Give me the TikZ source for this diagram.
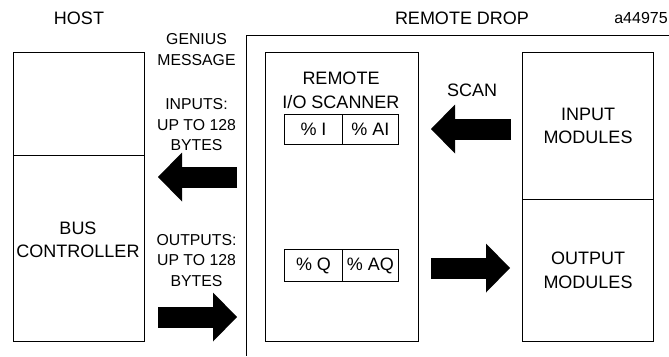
\documentclass[tikz,border=0pt]{standalone}
\usepackage{fontspec}
\setmainfont{Liberation Sans}
\usetikzlibrary{arrows.meta, calc}

\tikzset{
    box/.style={draw, line width=1pt, anchor=north west, inner sep=0pt},
    lbl/.style={align=center, font=\fontsize{18}{23.5}\selectfont},
    msg/.style={align=center, font=\fontsize{15.8}{20.5}\selectfont},
    fat/.style={line width=21pt, -{Triangle[length=24pt, width=49pt, line width=0pt]}},
}

\begin{document}
\begin{tikzpicture}[x=1pt, y=-1pt]
    \useasboundingbox (0,0) rectangle (669,356);

    % headings
    \node[lbl] (host) at (79,18.5) {HOST};
    \node[lbl] (drop) at (462,18.5) {REMOTE DROP};
    \node[font=\fontsize{16}{19}\selectfont] (fig) at (641,18) {a44975};
    \draw[line width=1pt] (669,35) -| (246,356);

    % host side
    \node[box, minimum width=131pt, minimum height=103pt] (hostup) at (13,52) {};
    \node[box, minimum width=131pt, minimum height=186pt] (hostlow) at (13,155) {};
    \node[lbl] (bus) at (78,240) {BUS\\CONTROLLER};

    \node[msg] (genius) at (196.5,49.5) {GENIUS\\MESSAGE};
    \node[msg] (inputs) at (196.5,125) {INPUTS:\\UP TO 128\\BYTES};
    \node[msg] (outputs) at (196.5,260.5) {OUTPUTS:\\UP TO 128\\BYTES};

    % remote drop
    \node[box, minimum width=153pt, minimum height=289pt] (scanner) at (265,52) {};
    \node[lbl] (scantitle) at (341,90.5) {REMOTE\\I/O SCANNER};
    \node[box, lbl, minimum width=58pt, minimum height=30pt] (ri) at (284,114) {\% I};
    \node[box, lbl, minimum width=56pt, minimum height=30pt] (rai) at (342,114) {\% AI};
    \node[box, lbl, minimum width=58pt, minimum height=32pt] (rq) at (284,249) {\% Q};
    \node[box, lbl, minimum width=56pt, minimum height=32pt] (raq) at (342,249) {\% AQ};

    \node[box, lbl, minimum width=131pt, minimum height=147pt] (inmod) at (522,52) {INPUT\\MODULES};
    \node[box, lbl, minimum width=131pt, minimum height=142pt] (outmod) at (522,199) {OUTPUT\\MODULES};
    \node[lbl] (scan) at (472,90) {SCAN};

    % block arrows
    \coordinate (gin) at (237,177);
    \coordinate (gout) at (237,317);
    \coordinate (scanfrom) at (511,129);
    \coordinate (qto) at (510,268);
    \draw[fat, shorten >=13pt] (gin) -- (gin -| hostlow.east);
    \draw[fat, shorten <=13pt] (gout -| hostlow.east) -- (gout);
    \draw[fat, shorten >=12pt] (scanfrom) -- (scanfrom -| scanner.east);
    \draw[fat, shorten <=12pt] (qto -| scanner.east) -- (qto);

\end{tikzpicture}
\end{document}
